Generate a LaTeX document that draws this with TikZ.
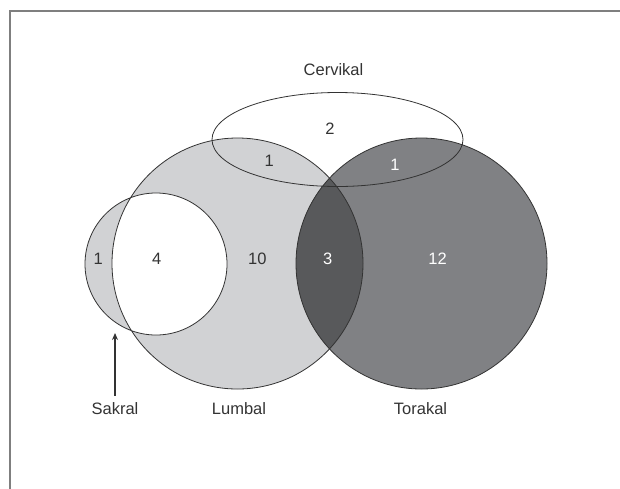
\documentclass[tikz,border=0pt]{standalone}
\usepackage{fontspec}
\setmainfont{Liberation Sans}
\usepackage{tikz}
\usetikzlibrary{arrows.meta}
\definecolor{lumgray}{HTML}{D1D2D4}
\definecolor{torgray}{HTML}{808184}
\definecolor{lensgray}{HTML}{58595B}
\definecolor{inkgray}{HTML}{333333}
\definecolor{framegray}{HTML}{7F7F7F}

\begin{document}
\begin{tikzpicture}[x=1pt, y=-1pt,
  set/.style={draw=inkgray, line width=0.8pt},
  lbl/.style={anchor=base, inner sep=1pt, text=inkgray,
              font=\fontsize{16.5}{18}\selectfont},
  wlbl/.style={lbl, text=white},
  arr/.style={-{Stealth[length=7pt,width=6pt]}, draw=inkgray, line width=1.2pt}]
\useasboundingbox (0,0) rectangle (620,488);
\draw[framegray, line width=1.3pt] (10,490) -- (10,11) -- (622,11);
\coordinate (sakral) at (156,264);
\coordinate (lumbal) at (237.5,263.5);
\coordinate (torakal) at (421.5,263.5);
\coordinate (cervikal) at (337.5,139.5);
\fill[lumgray] (lumbal) circle (125.5pt);
\fill[lumgray] (sakral) circle (71pt);
\begin{scope}
  \clip (lumbal) circle (125.5pt);
  \fill[white] (sakral) circle (71pt);
\end{scope}
\fill[torgray] (torakal) circle (125.5pt);
\begin{scope}
  \clip (lumbal) circle (125.5pt);
  \fill[lensgray] (torakal) circle (125.5pt);
\end{scope}
\draw[set] (sakral) circle (71pt) (lumbal) circle (125.5pt)
  (torakal) circle (125.5pt) (cervikal) ellipse (125.5pt and 47pt);
\node[lbl] (cervlbl) at (333.5,75.7) {Cervikal};
\node[lbl] (sakrlbl) at (115,414.3) {Sakral};
\node[lbl] (lumblbl) at (239,414.3) {Lumbal};
\node[lbl] (torlbl) at (420.5,414.3) {Torakal};
\node[lbl] (nsak) at (98.3,264) {1};
\node[lbl] (nsaklum) at (156.7,264) {4};
\node[lbl] (nlum) at (257.3,264) {10};
\node[wlbl] (nlumtor) at (327.7,264) {3};
\node[wlbl] (ntor) at (437.5,264) {12};
\node[lbl] (ncerv) at (330,134) {2};
\node[lbl] (ncervlum) at (269.3,166.7) {1};
\node[wlbl] (ncervtor) at (395,170) {1};
\coordinate (sakrtip) at (115,333);
\draw[arr, shorten <=5.5pt] (sakrlbl.north) -- (sakrtip);
\end{tikzpicture}
\end{document}
